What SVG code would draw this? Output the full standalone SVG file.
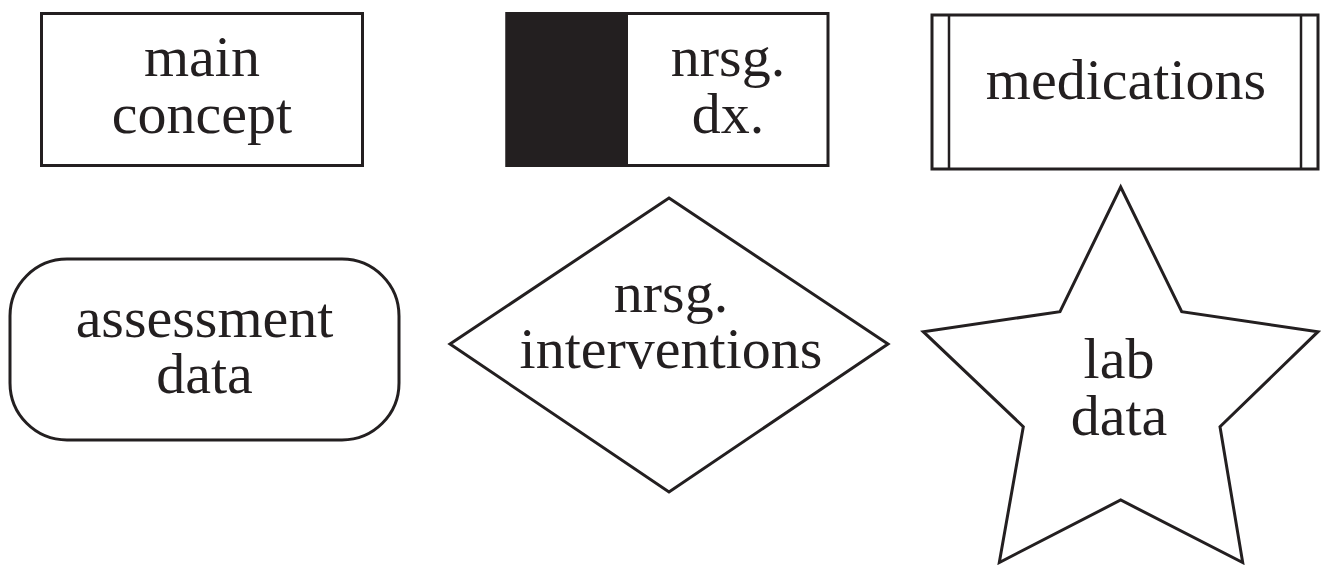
<svg xmlns="http://www.w3.org/2000/svg" width="1322" height="565" viewBox="0 0 1322 565">
<style>
.s{fill:#fff;stroke:#231f20;stroke-width:3}
.l{fill:none;stroke:#231f20;stroke-width:2.5}
.t{font-family:"Liberation Serif","Times New Roman",serif;font-size:58px;fill:#231f20;text-anchor:middle}
</style>
<rect width="1322" height="565" fill="#fff"/>
<g id="main-concept">
<rect class="s" x="41.5" y="13.5" width="321" height="152"/>
<text class="t" x="202" y="76">main</text>
<text class="t" x="202" y="133">concept</text>
</g>
<g id="nrsg-dx">
<rect class="s" x="507" y="13.5" width="321" height="152"/>
<rect x="505.5" y="12" width="122.5" height="155" fill="#231f20"/>
<text class="t" x="728" y="76">nrsg.</text>
<text class="t" x="728" y="133">dx.</text>
</g>
<g id="medications">
<rect class="s" x="932" y="15" width="386" height="154"/>
<line class="l" x1="949" y1="15" x2="949" y2="169"/>
<line class="l" x1="1301" y1="15" x2="1301" y2="169"/>
<text class="t" x="1126" y="99">medications</text>
</g>
<g id="assessment-data">
<rect class="s" x="10" y="259" width="389" height="181" rx="57" ry="57"/>
<text class="t" x="204.5" y="337">assessment</text>
<text class="t" x="204.5" y="393">data</text>
</g>
<g id="nrsg-interventions">
<polygon class="s" points="669,198 888,344 669,492 450,344"/>
<text class="t" x="671" y="312">nrsg.</text>
<text class="t" x="671" y="368">interventions</text>
</g>
<g id="lab-data">
<polygon class="s" points="1120.7,187 1181.7,311.7 1318,331.7 1220,426.7 1242.7,562.5 1120.7,500 999.3,562.5 1023.3,426.7 923.3,331.7 1060,311.7"/>
<text class="t" x="1119" y="378">lab</text>
<text class="t" x="1119" y="435">data</text>
</g>
<g id="connectors"/>
</svg>
